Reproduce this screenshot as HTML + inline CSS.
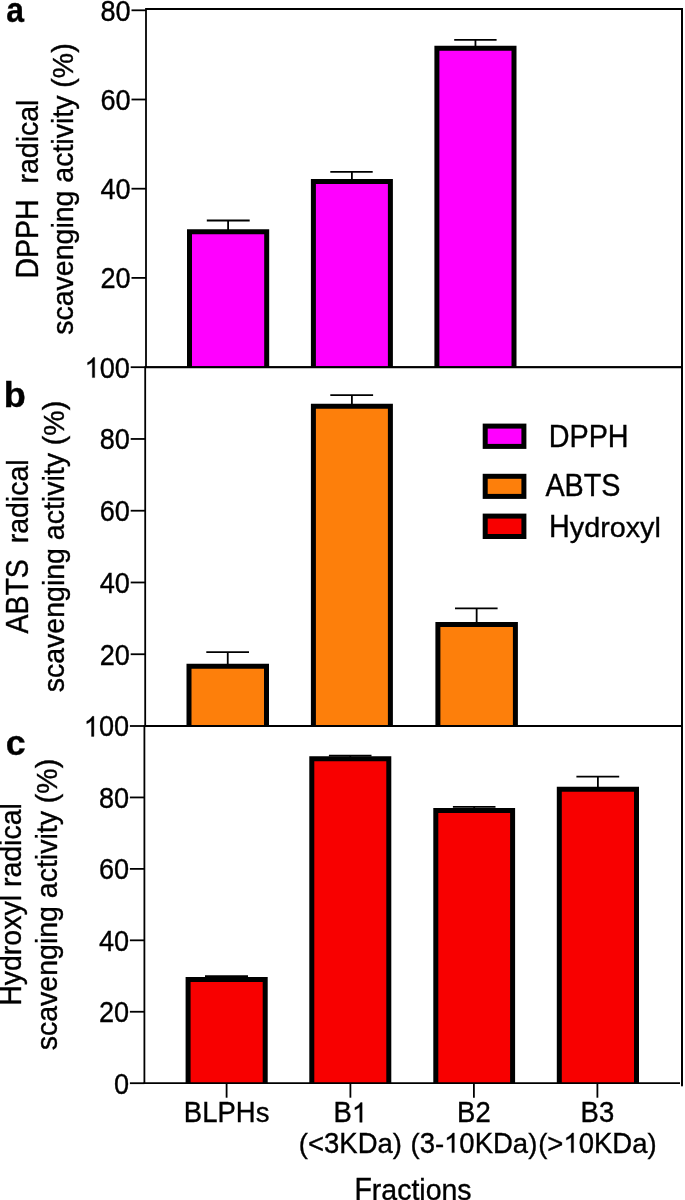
<!DOCTYPE html>
<html><head><meta charset="utf-8"><title>Radical scavenging activity</title>
<style>
html,body{margin:0;padding:0;background:#fff;}
body{width:685px;height:1200px;overflow:hidden;}
svg{display:block;will-change:transform;font-family:"Liberation Sans", sans-serif;}
svg text{stroke:#000;stroke-width:0.35px;}
svg path.g1{fill:#000;stroke:#000;stroke-width:0.35px;}
</style></head>
<body>
<svg width="685" height="1200" viewBox="0 0 685 1200" fill="#000">
<rect width="685" height="1200" fill="#fff"/>
<line x1="228.10" y1="220.50" x2="228.10" y2="231.30" stroke="#000" stroke-width="1.8"/>
<line x1="206.80" y1="220.50" x2="249.70" y2="220.50" stroke="#000" stroke-width="1.8"/>
<rect x="189.50" y="231.80" width="77.20" height="135.30" fill="#ff00ff"/>
<path d="M189.50 367.10 V231.80 H266.70 V367.10" fill="none" stroke="#000" stroke-width="5"/>
<line x1="351.90" y1="171.90" x2="351.90" y2="180.90" stroke="#000" stroke-width="1.8"/>
<line x1="330.30" y1="171.90" x2="372.70" y2="171.90" stroke="#000" stroke-width="1.8"/>
<rect x="313.40" y="181.40" width="77.00" height="185.70" fill="#ff00ff"/>
<path d="M313.40 367.10 V181.40 H390.40 V367.10" fill="none" stroke="#000" stroke-width="5"/>
<line x1="475.45" y1="39.80" x2="475.45" y2="47.75" stroke="#000" stroke-width="1.8"/>
<line x1="454.20" y1="39.80" x2="496.60" y2="39.80" stroke="#000" stroke-width="1.8"/>
<rect x="436.90" y="48.25" width="77.10" height="318.85" fill="#ff00ff"/>
<path d="M436.90 367.10 V48.25 H514.00 V367.10" fill="none" stroke="#000" stroke-width="5"/>
<line x1="146.00" y1="9.00" x2="683.00" y2="9.00" stroke="#000" stroke-width="2.0"/>
<line x1="682.00" y1="9.00" x2="682.00" y2="367.10" stroke="#000" stroke-width="2.0" stroke-linecap="butt"/>
<line x1="145.10" y1="367.10" x2="682.00" y2="367.10" stroke="#000" stroke-width="1.8"/>
<line x1="146.00" y1="8.10" x2="146.00" y2="368.00" stroke="#000" stroke-width="1.8"/>
<line x1="131.50" y1="277.90" x2="146.00" y2="277.90" stroke="#000" stroke-width="1.8"/>
<g transform="translate(130.70 288.30) scale(0.97 1)"><text transform="scale(1 1.0405)" x="-31.15" font-size="28">20</text></g>
<line x1="131.50" y1="188.70" x2="146.00" y2="188.70" stroke="#000" stroke-width="1.8"/>
<g transform="translate(130.70 199.10) scale(0.97 1)"><text transform="scale(1 1.0405)" x="-31.15" font-size="28">40</text></g>
<line x1="131.50" y1="99.50" x2="146.00" y2="99.50" stroke="#000" stroke-width="1.8"/>
<g transform="translate(130.70 109.90) scale(0.97 1)"><text transform="scale(1 1.0405)" x="-31.15" font-size="28">60</text></g>
<line x1="131.50" y1="10.30" x2="146.00" y2="10.30" stroke="#000" stroke-width="1.8"/>
<g transform="translate(130.70 20.70) scale(0.97 1)"><text transform="scale(1 1.0405)" x="-31.15" font-size="28">80</text></g>
<text transform="translate(6.26 21.95) scale(0.92 1)" font-size="34.7" font-weight="bold">a</text>
<g transform="translate(0 189.0) rotate(-90) translate(0 38.0) scale(1.0 1)"><text transform="scale(1 1.0900)" x="-89.49" font-size="28.5">DPPH</text><text transform="scale(1 1.0300)" x="5.52" font-size="28.5">radical</text></g>
<g transform="translate(0 189.0) rotate(-90) translate(0 73.3) scale(1.0 1)"><text transform="scale(1 1.0300)" x="-145.73" font-size="28.5">scavenging</text><text transform="scale(1 1.0300)" x="6.37" font-size="28.5">activity</text><text transform="scale(1 1.0300)" x="101.38" font-size="28.5">(%)</text></g>
<line x1="227.75" y1="652.20" x2="227.75" y2="665.80" stroke="#000" stroke-width="1.8"/>
<line x1="206.30" y1="652.20" x2="249.00" y2="652.20" stroke="#000" stroke-width="1.8"/>
<rect x="189.00" y="666.30" width="77.50" height="59.70" fill="#fd7f0b"/>
<path d="M189.00 726.00 V666.30 H266.50 V726.00" fill="none" stroke="#000" stroke-width="5"/>
<line x1="351.90" y1="395.20" x2="351.90" y2="405.80" stroke="#000" stroke-width="1.8"/>
<line x1="330.30" y1="395.20" x2="373.10" y2="395.20" stroke="#000" stroke-width="1.8"/>
<rect x="313.40" y="406.30" width="77.00" height="319.70" fill="#fd7f0b"/>
<path d="M313.40 726.00 V406.30 H390.40 V726.00" fill="none" stroke="#000" stroke-width="5"/>
<line x1="476.65" y1="608.40" x2="476.65" y2="624.10" stroke="#000" stroke-width="1.8"/>
<line x1="455.00" y1="608.40" x2="497.60" y2="608.40" stroke="#000" stroke-width="1.8"/>
<rect x="437.90" y="624.60" width="77.50" height="101.40" fill="#fd7f0b"/>
<path d="M437.90 726.00 V624.60 H515.40 V726.00" fill="none" stroke="#000" stroke-width="5"/>
<line x1="145.20" y1="367.20" x2="683.00" y2="367.20" stroke="#000" stroke-width="2.0"/>
<line x1="682.00" y1="367.20" x2="682.00" y2="726.00" stroke="#000" stroke-width="2.0" stroke-linecap="butt"/>
<line x1="144.30" y1="726.00" x2="682.00" y2="726.00" stroke="#000" stroke-width="1.8"/>
<line x1="145.20" y1="366.30" x2="145.20" y2="726.90" stroke="#000" stroke-width="1.8"/>
<line x1="130.70" y1="654.24" x2="145.20" y2="654.24" stroke="#000" stroke-width="1.8"/>
<g transform="translate(129.90 664.64) scale(0.97 1)"><text transform="scale(1 1.0405)" x="-31.15" font-size="28">20</text></g>
<line x1="130.70" y1="582.48" x2="145.20" y2="582.48" stroke="#000" stroke-width="1.8"/>
<g transform="translate(129.90 592.88) scale(0.97 1)"><text transform="scale(1 1.0405)" x="-31.15" font-size="28">40</text></g>
<line x1="130.70" y1="510.72" x2="145.20" y2="510.72" stroke="#000" stroke-width="1.8"/>
<g transform="translate(129.90 521.12) scale(0.97 1)"><text transform="scale(1 1.0405)" x="-31.15" font-size="28">60</text></g>
<line x1="130.70" y1="438.96" x2="145.20" y2="438.96" stroke="#000" stroke-width="1.8"/>
<g transform="translate(129.90 449.36) scale(0.97 1)"><text transform="scale(1 1.0405)" x="-31.15" font-size="28">80</text></g>
<line x1="130.70" y1="367.20" x2="145.20" y2="367.20" stroke="#000" stroke-width="1.8"/>
<g transform="translate(129.90 377.60) scale(0.97 1)"><path class="g1" transform="scale(1 1.0405)" d="M-36.28 0.00 L-38.74 0.00 L-38.74 -15.07 Q-39.63 -14.26 -41.04 -13.46 Q-42.45 -12.67 -43.66 -12.23 L-43.66 -14.52 Q-41.60 -15.45 -40.08 -16.75 Q-38.56 -18.05 -37.87 -19.26 L-36.28 -19.26 Z"/><text transform="scale(1 1.0405)" x="-31.15" font-size="28">00</text></g>
<text transform="translate(3.72 407.45) scale(1.04 1)" font-size="34.7" font-weight="bold">b</text>
<g transform="translate(0 546.5) rotate(-90) translate(0 27.7) scale(1.0 1)"><text transform="scale(1 1.0900)" x="-87.12" font-size="28.5">ABTS</text><text transform="scale(1 1.0300)" x="3.15" font-size="28.5">radical</text></g>
<g transform="translate(0 546.5) rotate(-90) translate(0 63.5) scale(1.0 1)"><text transform="scale(1 1.0300)" x="-145.73" font-size="28.5">scavenging</text><text transform="scale(1 1.0300)" x="6.37" font-size="28.5">activity</text><text transform="scale(1 1.0300)" x="101.38" font-size="28.5">(%)</text></g>
<line x1="226.65" y1="976.10" x2="226.65" y2="979.00" stroke="#000" stroke-width="1.8"/>
<line x1="205.00" y1="976.10" x2="248.00" y2="976.10" stroke="#000" stroke-width="1.8"/>
<rect x="188.10" y="979.50" width="77.10" height="103.70" fill="#f80000"/>
<path d="M188.10 1083.20 V979.50 H265.20 V1083.20" fill="none" stroke="#000" stroke-width="5"/>
<line x1="350.30" y1="755.60" x2="350.30" y2="758.30" stroke="#000" stroke-width="1.8"/>
<line x1="328.90" y1="755.60" x2="371.50" y2="755.60" stroke="#000" stroke-width="1.8"/>
<rect x="311.80" y="758.80" width="77.00" height="324.40" fill="#f80000"/>
<path d="M311.80 1083.20 V758.80 H388.80 V1083.20" fill="none" stroke="#000" stroke-width="5"/>
<line x1="474.20" y1="806.80" x2="474.20" y2="810.00" stroke="#000" stroke-width="1.8"/>
<line x1="452.90" y1="806.80" x2="495.50" y2="806.80" stroke="#000" stroke-width="1.8"/>
<rect x="435.80" y="810.50" width="76.80" height="272.70" fill="#f80000"/>
<path d="M435.80 1083.20 V810.50 H512.60 V1083.20" fill="none" stroke="#000" stroke-width="5"/>
<line x1="597.90" y1="776.60" x2="597.90" y2="788.80" stroke="#000" stroke-width="1.8"/>
<line x1="576.40" y1="776.60" x2="619.20" y2="776.60" stroke="#000" stroke-width="1.8"/>
<rect x="559.30" y="789.30" width="77.20" height="293.90" fill="#f80000"/>
<path d="M559.30 1083.20 V789.30 H636.50 V1083.20" fill="none" stroke="#000" stroke-width="5"/>
<line x1="144.40" y1="726.00" x2="683.00" y2="726.00" stroke="#000" stroke-width="2.0"/>
<line x1="682.00" y1="726.00" x2="682.00" y2="1085.40" stroke="#000" stroke-width="2.0" stroke-linecap="round"/>
<line x1="143.50" y1="1083.20" x2="680.00" y2="1083.20" stroke="#000" stroke-width="1.8"/>
<line x1="144.40" y1="725.10" x2="144.40" y2="1084.10" stroke="#000" stroke-width="1.8"/>
<line x1="129.90" y1="1083.20" x2="144.40" y2="1083.20" stroke="#000" stroke-width="1.8"/>
<g transform="translate(129.10 1093.60) scale(0.97 1)"><text transform="scale(1 1.0405)" x="-15.58" font-size="28">0</text></g>
<line x1="129.90" y1="1011.76" x2="144.40" y2="1011.76" stroke="#000" stroke-width="1.8"/>
<g transform="translate(129.10 1022.16) scale(0.97 1)"><text transform="scale(1 1.0405)" x="-31.15" font-size="28">20</text></g>
<line x1="129.90" y1="940.32" x2="144.40" y2="940.32" stroke="#000" stroke-width="1.8"/>
<g transform="translate(129.10 950.72) scale(0.97 1)"><text transform="scale(1 1.0405)" x="-31.15" font-size="28">40</text></g>
<line x1="129.90" y1="868.88" x2="144.40" y2="868.88" stroke="#000" stroke-width="1.8"/>
<g transform="translate(129.10 879.28) scale(0.97 1)"><text transform="scale(1 1.0405)" x="-31.15" font-size="28">60</text></g>
<line x1="129.90" y1="797.44" x2="144.40" y2="797.44" stroke="#000" stroke-width="1.8"/>
<g transform="translate(129.10 807.84) scale(0.97 1)"><text transform="scale(1 1.0405)" x="-31.15" font-size="28">80</text></g>
<line x1="129.90" y1="726.00" x2="144.40" y2="726.00" stroke="#000" stroke-width="1.8"/>
<g transform="translate(129.10 736.40) scale(0.97 1)"><path class="g1" transform="scale(1 1.0405)" d="M-36.28 0.00 L-38.74 0.00 L-38.74 -15.07 Q-39.63 -14.26 -41.04 -13.46 Q-42.45 -12.67 -43.66 -12.23 L-43.66 -14.52 Q-41.60 -15.45 -40.08 -16.75 Q-38.56 -18.05 -37.87 -19.26 L-36.28 -19.26 Z"/><text transform="scale(1 1.0405)" x="-31.15" font-size="28">00</text></g>
<text transform="translate(5.8 754.6) scale(1.03 1)" font-size="34.7" font-weight="bold">c</text>
<g transform="translate(0 904.5) rotate(-90) translate(0 21.0) scale(1.0 1)"><text transform="scale(1 1.0900)" x="-101.37" font-size="28.5">H</text><text transform="scale(1 1.0300)" x="-80.79" font-size="28.5">ydroxyl</text><text transform="scale(1 1.0300)" x="17.40" font-size="28.5">radical</text></g>
<g transform="translate(0 904.5) rotate(-90) translate(0 57.0) scale(1.0 1)"><text transform="scale(1 1.0300)" x="-145.73" font-size="28.5">scavenging</text><text transform="scale(1 1.0300)" x="6.37" font-size="28.5">activity</text><text transform="scale(1 1.0300)" x="101.38" font-size="28.5">(%)</text></g>
<line x1="226.6" y1="1083.2" x2="226.6" y2="1097.7" stroke="#000" stroke-width="1.8"/>
<line x1="350.4" y1="1083.2" x2="350.4" y2="1097.7" stroke="#000" stroke-width="1.8"/>
<line x1="473.9" y1="1083.2" x2="473.9" y2="1097.7" stroke="#000" stroke-width="1.8"/>
<line x1="597.4" y1="1083.2" x2="597.4" y2="1097.7" stroke="#000" stroke-width="1.8"/>
<g transform="translate(226.60 1122.30) scale(1.0 1)"><text transform="scale(1 1.0405)" x="-42.80" font-size="27.5">BLPH</text><text transform="scale(1 0.9850)" x="29.03" font-size="27.5">s</text></g>
<g transform="translate(350.40 1122.30) scale(1.0 1)"><text transform="scale(1 1.0405)" x="-16.82" font-size="27.5">B</text><path class="g1" transform="scale(1 1.0405)" d="M11.75 0.00 L9.34 0.00 L9.34 -14.80 Q8.46 -14.00 7.08 -13.22 Q5.70 -12.44 4.50 -12.02 L4.50 -14.26 Q6.53 -15.18 8.02 -16.45 Q9.51 -17.73 10.20 -18.92 L11.75 -18.92 Z"/></g>
<g transform="translate(350.40 1152.60) scale(1.0 1)"><text transform="scale(1 0.9850)" x="-51.59" font-size="27.5">(&lt;</text><text transform="scale(1 1.0405)" x="-26.38" font-size="27.5">3KD</text><text transform="scale(1 0.9850)" x="27.12" font-size="27.5">a)</text></g>
<g transform="translate(473.90 1122.30) scale(1.0 1)"><text transform="scale(1 1.0405)" x="-16.82" font-size="27.5">B2</text></g>
<g transform="translate(473.90 1152.60) scale(1.0 1)"><text transform="scale(1 0.9850)" x="-63.43" font-size="27.5">(</text><text transform="scale(1 1.0405)" x="-54.27" font-size="27.5">3</text><text transform="scale(1 0.9850)" x="-38.99" font-size="27.5">-</text><path class="g1" transform="scale(1 1.0405)" d="M-19.57 0.00 L-21.99 0.00 L-21.99 -14.80 Q-22.86 -14.00 -24.25 -13.22 Q-25.63 -12.44 -26.83 -12.02 L-26.83 -14.26 Q-24.80 -15.18 -23.31 -16.45 Q-21.82 -17.73 -21.13 -18.92 L-19.57 -18.92 Z"/><text transform="scale(1 1.0405)" x="-14.54" font-size="27.5">0KD</text><text transform="scale(1 0.9850)" x="38.96" font-size="27.5">a)</text></g>
<g transform="translate(597.40 1122.30) scale(1.0 1)"><text transform="scale(1 1.0405)" x="-16.82" font-size="27.5">B3</text></g>
<g transform="translate(597.40 1152.60) scale(1.0 1)"><text transform="scale(1 0.9850)" x="-59.23" font-size="27.5">(&gt;</text><path class="g1" transform="scale(1 1.0405)" d="M-23.79 0.00 L-26.20 0.00 L-26.20 -14.80 Q-27.08 -14.00 -28.46 -13.22 Q-29.84 -12.44 -31.04 -12.02 L-31.04 -14.26 Q-29.01 -15.18 -27.52 -16.45 Q-26.03 -17.73 -25.34 -18.92 L-23.79 -18.92 Z"/><text transform="scale(1 1.0405)" x="-18.73" font-size="27.5">0KD</text><text transform="scale(1 0.9850)" x="34.77" font-size="27.5">a)</text></g>
<g transform="translate(413.00 1199.60) scale(1.0 1)"><text transform="scale(1 1.1000)" x="-58.60" font-size="28.5">F</text><text transform="scale(1 1.0300)" x="-41.20" font-size="28.5">ractions</text></g>
<rect x="485.20" y="426.10" width="38.70" height="20.30" fill="#ff00ff" stroke="#000" stroke-width="5"/>
<g transform="translate(548.70 446.60) scale(1.01 1)"><text transform="scale(1 1.0900)" x="0.00" font-size="28.5">DPPH</text></g>
<rect x="485.20" y="476.30" width="38.70" height="20.10" fill="#fd7f0b" stroke="#000" stroke-width="5"/>
<g transform="translate(545.40 496.40) scale(1.01 1)"><text transform="scale(1 1.0900)" x="0.00" font-size="28.5">ABTS</text></g>
<rect x="485.20" y="516.10" width="38.70" height="20.40" fill="#f80000" stroke="#000" stroke-width="5"/>
<g transform="translate(549.00 536.70) scale(1.01 1)"><text transform="scale(1 1.0900)" x="0.00" font-size="28.5">H</text><text transform="scale(1 1.0000)" x="20.57" font-size="28.5">ydroxyl</text></g>
</svg>
</body></html>
